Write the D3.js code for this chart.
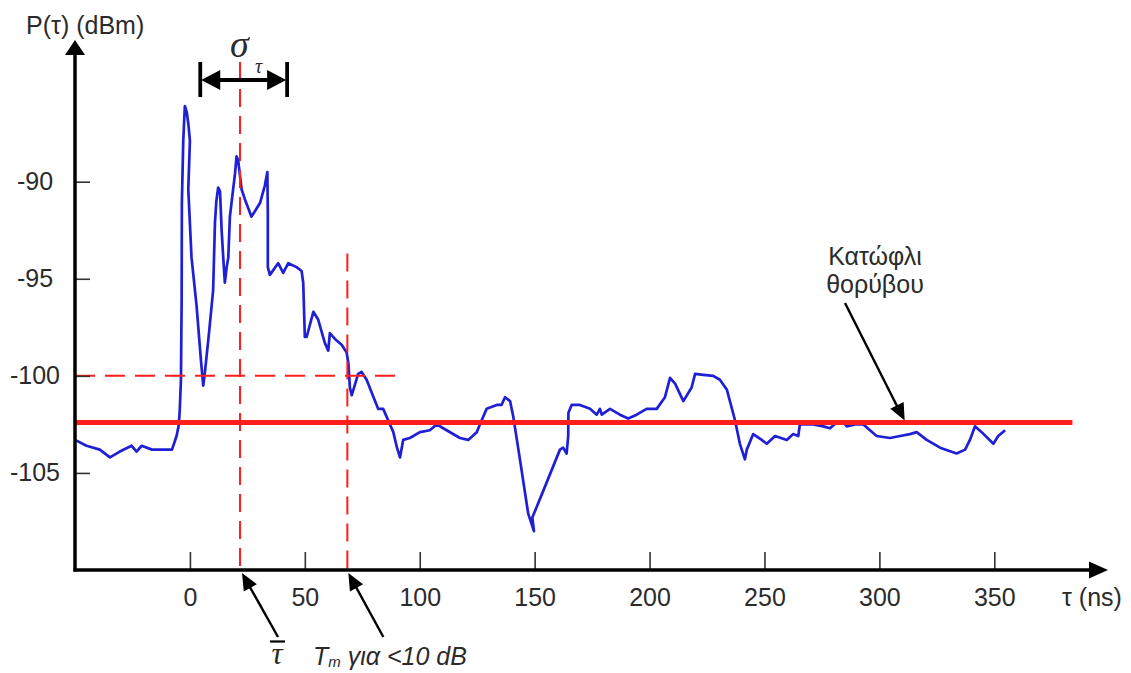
<!DOCTYPE html>
<html>
<head>
<meta charset="utf-8">
<script src="https://cdn.jsdelivr.net/npm/d3@7"></script>
<style>
  html, body { margin: 0; padding: 0; background: #fff; }
  svg { display: block; }
  text { font-family: "Liberation Sans", Arial, Helvetica, sans-serif; fill: #2b2b2b; }
  .serif { font-family: "Liberation Serif", "Times New Roman", serif; font-style: italic; }
</style>
</head>
<body>
<svg id="chart" width="1131" height="673"></svg>
<script>
// Power delay profile P(τ), measured samples (delay in ns, power in dBm)
const delayNs = [
  -50.0, -45.0, -39.2, -34.8, -30.5, -25.4, -23.2, -21.0, -16.5, -13.1, -7.8, -5.8, -4.8, -4.4,
  -3.9, -3.6, -3.5, -2.9, -2.2, -1.4, -0.7, 0.0, -0.4, -0.7, 0.7, 2.9, 4.8, 5.8, 6.5, 8.3,
  10.1, 10.9, 11.5, 12.3, 13.1, 13.8, 14.6, 15.2, 16.0, 16.7, 17.4, 19.6, 20.3, 21.0, 22.5,
  23.9, 26.8, 30.5, 32.6, 33.7, 33.9, 33.9, 34.8, 38.4, 40.6, 42.8, 46.4, 48.6, 49.3, 50.0,
  50.8, 53.7, 55.8, 58.7, 60.2, 60.9, 63.1, 66.0, 68.2, 69.0, 69.6, 70.4, 73.2, 74.7, 76.9,
  79.2, 81.9, 84.1, 86.3, 88.5, 90.1, 91.4, 92.8, 95.7, 100.1, 104.4, 107.4, 111.7, 117.5,
  121.1, 124.8, 126.9, 129.1, 133.5, 135.6, 137.1, 139.3, 140.7, 143.6, 147.2, 149.7, 149.0,
  155.2, 161.0, 162.4, 163.9, 164.6, 164.7, 166.1, 169.7, 174.1, 177.0, 178.4, 179.2, 182.8,
  187.1, 190.7, 194.4, 198.7, 203.1, 206.7, 208.9, 211.1, 214.7, 218.3, 219.8, 223.4, 227.7,
  230.6, 233.6, 235.4, 237.2, 239.3, 241.5, 242.3, 245.1, 248.8, 251.0, 254.6, 259.7, 262.5,
  264.7, 265.4, 271.2, 275.6, 278.5, 281.4, 284.3, 285.8, 289.4, 293.0, 295.9, 298.8, 304.6,
  309.0, 313.3, 316.2, 320.6, 326.4, 333.6, 337.3, 339.4, 341.6, 344.5, 349.6, 351.7, 354.7
];
const powerDbm = [
  -103.3, -103.6, -103.8, -104.2, -103.9, -103.6, -103.9, -103.6, -103.8, -103.8, -103.8, -103.1, -102.5, -101.7,
  -100.2, -96.1, -91.1, -87.9, -86.1, -86.4, -87.0, -87.9, -89.3, -90.4, -93.9, -96.4, -99.2, -100.5, -99.85, -97.8,
  -95.6, -92.1, -91.0, -90.3, -90.5, -92.5, -94.1, -95.2, -94.4, -93.9, -91.8, -89.6, -88.7, -88.9, -90.4,
  -90.9, -91.8, -91.1, -90.2, -89.5, -91.6, -94.4, -94.8, -94.2, -94.7, -94.2, -94.4, -94.6, -95.2, -98.0,
  -98.0, -96.7, -97.1, -98.3, -98.7, -97.8, -98.1, -98.4, -98.8, -99.4, -100.6, -101.0, -99.9, -99.8, -100.2,
  -100.9, -101.7, -101.7, -102.3, -102.9, -103.7, -104.2, -103.3, -103.2, -102.9, -102.8, -102.5, -102.8, -103.2,
  -103.3, -102.9, -102.3, -101.7, -101.5, -101.5, -101.1, -101.3, -102.1, -104.3, -107.1, -108.0, -107.3,
  -105.5, -103.8, -103.7, -104.0, -103.1, -101.9, -101.5, -101.5, -101.7, -102.0, -101.7, -102.0, -101.7,
  -102.0, -102.2, -102.0, -101.7, -101.7, -101.1, -100.1, -100.4, -101.3, -100.6, -99.9, -99.95, -100.0,
  -100.2, -100.7, -101.5, -102.3, -103.5, -104.3, -103.8, -103.0, -103.3, -103.5, -103.1, -103.3, -103.0,
  -103.1, -102.5, -102.5, -102.6, -102.7, -102.4, -102.4, -102.6, -102.5, -102.5, -102.8, -103.1, -103.2,
  -103.1, -103.0, -102.9, -103.3, -103.7, -104.0, -103.8, -103.3, -102.6, -102.9, -103.5, -103.1, -102.8
];

// Axis ticks
const xTicks = [0, 50, 100, 150, 200, 250, 300, 350];
const yTicks = [-90, -95, -100, -105];

// Annotated quantities
const noiseFloorDbm = -102.4;     // noise threshold
const thresholdDbm = -100;        // level used for the excess-delay marker
const meanDelayNs = 21.8;         // mean excess delay τ̄
const maxExcessDelayNs = 68.5;    // Tm for < 10 dB
const rmsSpreadSpanNs = [4.5, 42.3]; // span of the σ_τ bracket

const svg = d3.select("#chart");

const x = d3.scaleLinear().domain([-50, 350]).range([75, 994.3]);
const y = d3.scaleLinear().domain([-110, -90]).range([570, 181.7]);

const axisY = y(-110);
const axisX = x(-50);
const RED = "#ff1e1e";
const BLUE = "#1f1fd6";
const FS = 25;

// filled arrowhead pointing from (fx,fy) to the tip (tx,ty)
function arrowHead(tx, ty, fx, fy, len, half) {
  const a = Math.atan2(ty - fy, tx - fx);
  const bx = tx - len * Math.cos(a), by = ty - len * Math.sin(a);
  const px = -Math.sin(a) * half, py = Math.cos(a) * half;
  return `M${tx},${ty}L${bx + px},${by + py}L${bx - px},${by - py}Z`;
}

// --- measured profile
const line = d3.line().x((d, i) => x(delayNs[i])).y(d => y(d));
svg.append("path")
  .datum(powerDbm)
  .attr("d", line)
  .attr("fill", "none")
  .attr("stroke", BLUE)
  .attr("stroke-width", 2.7)
  .attr("stroke-linejoin", "round");

// --- noise threshold
svg.append("line")
  .attr("x1", axisX).attr("x2", x(384))
  .attr("y1", y(noiseFloorDbm)).attr("y2", y(noiseFloorDbm))
  .attr("stroke", RED).attr("stroke-width", 5);

// --- dashed reference lines
svg.append("line")
  .attr("x1", axisX).attr("x2", x(90))
  .attr("y1", y(thresholdDbm)).attr("y2", y(thresholdDbm))
  .attr("stroke", RED).attr("stroke-width", 2).attr("stroke-dasharray", "20,10");
svg.append("line")
  .attr("x1", x(meanDelayNs)).attr("x2", x(meanDelayNs))
  .attr("y1", 62).attr("y2", axisY)
  .attr("stroke", RED).attr("stroke-width", 2).attr("stroke-dasharray", "18,9");
svg.append("line")
  .attr("x1", x(maxExcessDelayNs)).attr("x2", x(maxExcessDelayNs))
  .attr("y1", y(-93.7)).attr("y2", axisY)
  .attr("stroke", RED).attr("stroke-width", 2).attr("stroke-dasharray", "18,9");

// --- axes
const xAxis = d3.axisBottom(x).tickValues(xTicks).tickSize(-18).tickPadding(18)
  .tickFormat(d => String(d));
const gx = svg.append("g").attr("transform", `translate(0,${axisY})`).call(xAxis);
gx.select(".domain").remove();
gx.selectAll(".tick line").attr("stroke", "#333").attr("stroke-width", 1.6);
gx.selectAll(".tick text").attr("font-size", FS).attr("fill", "#2b2b2b")
  .style("font-family", "'Liberation Sans', Arial, sans-serif");

const yAxis = d3.axisLeft(y).tickValues(yTicks).tickSize(-15).tickPadding(0)
  .tickFormat(d => String(d));
const gy = svg.append("g").attr("transform", `translate(${axisX},0)`).call(yAxis);
gy.select(".domain").remove();
gy.selectAll(".tick line").attr("stroke", "#333").attr("stroke-width", 1.6);
gy.selectAll(".tick text").attr("font-size", FS).attr("fill", "#2b2b2b")
  .attr("text-anchor", "middle").attr("x", -40)
  .style("font-family", "'Liberation Sans', Arial, sans-serif");

const xEnd = 1108, yTop = 40;
svg.append("line").attr("x1", axisX - 1.5).attr("x2", xEnd - 10)
  .attr("y1", axisY).attr("y2", axisY).attr("stroke", "#000").attr("stroke-width", 3.5);
svg.append("path").attr("d", arrowHead(xEnd, axisY, axisX, axisY, 19, 8.5)).attr("fill", "#000");
svg.append("line").attr("x1", axisX).attr("x2", axisX)
  .attr("y1", axisY + 1.5).attr("y2", yTop + 10).attr("stroke", "#000").attr("stroke-width", 3.5);
svg.append("path").attr("d", arrowHead(axisX, yTop, axisX, axisY, 15, 10)).attr("fill", "#000");

svg.append("text").attr("x", 26).attr("y", 34).attr("font-size", FS).text("P(τ) (dBm)");
svg.append("text").attr("x", 1062).attr("y", 606).attr("font-size", FS).text("τ (ns)");

// --- σ_τ bracket
const bx0 = x(rmsSpreadSpanNs[0]), bx1 = x(rmsSpreadSpanNs[1]), by = 80;
const br = svg.append("g").attr("stroke", "#000").attr("stroke-width", 3.8);
br.append("line").attr("x1", bx0).attr("x2", bx0).attr("y1", 62).attr("y2", 97);
br.append("line").attr("x1", bx1).attr("x2", bx1).attr("y1", 62).attr("y2", 97);
br.append("line").attr("x1", bx0 + 12).attr("x2", bx1 - 12).attr("y1", by).attr("y2", by);
svg.append("path").attr("d", arrowHead(bx0 + 1, by, bx1, by, 19, 10)).attr("fill", "#000");
svg.append("path").attr("d", arrowHead(bx1 - 1, by, bx0, by, 19, 10)).attr("fill", "#000");
svg.append("text").attr("class", "serif").attr("x", 230).attr("y", 57)
  .attr("font-size", 38).attr("fill", "#111").text("σ");
svg.append("text").attr("class", "serif").attr("x", 255).attr("y", 73)
  .attr("font-size", 20).attr("fill", "#333").text("τ");

// --- delay annotations under the axis
function pointer(tx, ty, fx, fy) {
  svg.append("line").attr("x1", fx).attr("y1", fy).attr("x2", tx + (fx - tx) * 0.2).attr("y2", ty + (fy - ty) * 0.2)
    .attr("stroke", "#000").attr("stroke-width", 2.4);
  svg.append("path").attr("d", arrowHead(tx, ty, fx, fy, 17, 7.5)).attr("fill", "#000");
}
pointer(x(meanDelayNs) + 2, axisY + 3, x(meanDelayNs) + 38, 637);
pointer(x(maxExcessDelayNs) + 1, axisY + 3, x(maxExcessDelayNs) + 36, 637);

svg.append("line").attr("x1", 270).attr("x2", 285).attr("y1", 641.5).attr("y2", 641.5)
  .attr("stroke", "#000").attr("stroke-width", 2.2);
svg.append("text").attr("class", "serif").attr("x", 277).attr("y", 664)
  .attr("text-anchor", "middle").attr("font-size", 31).attr("fill", "#111").text("τ");

const tm = svg.append("text").attr("x", 313).attr("y", 665).attr("font-size", FS)
  .style("font-style", "italic");
tm.append("tspan").text("T");
tm.append("tspan").attr("font-size", 15).attr("dy", 2).text("m");
tm.append("tspan").attr("dy", -2).text(" για <10 dB");

// --- noise floor label
svg.append("text").attr("x", 875).attr("y", 265).attr("text-anchor", "middle")
  .attr("font-size", FS).text("Κατώφλι");
svg.append("text").attr("x", 875).attr("y", 293).attr("text-anchor", "middle")
  .attr("font-size", FS).text("θορύβου");
svg.append("line").attr("x1", 845).attr("y1", 303).attr("x2", 898).attr("y2", 408)
  .attr("stroke", "#000").attr("stroke-width", 2.4);
svg.append("path").attr("d", arrowHead(x(311), y(noiseFloorDbm) - 2, 845, 303, 17, 7.5)).attr("fill", "#000");
</script>
</body>
</html>
